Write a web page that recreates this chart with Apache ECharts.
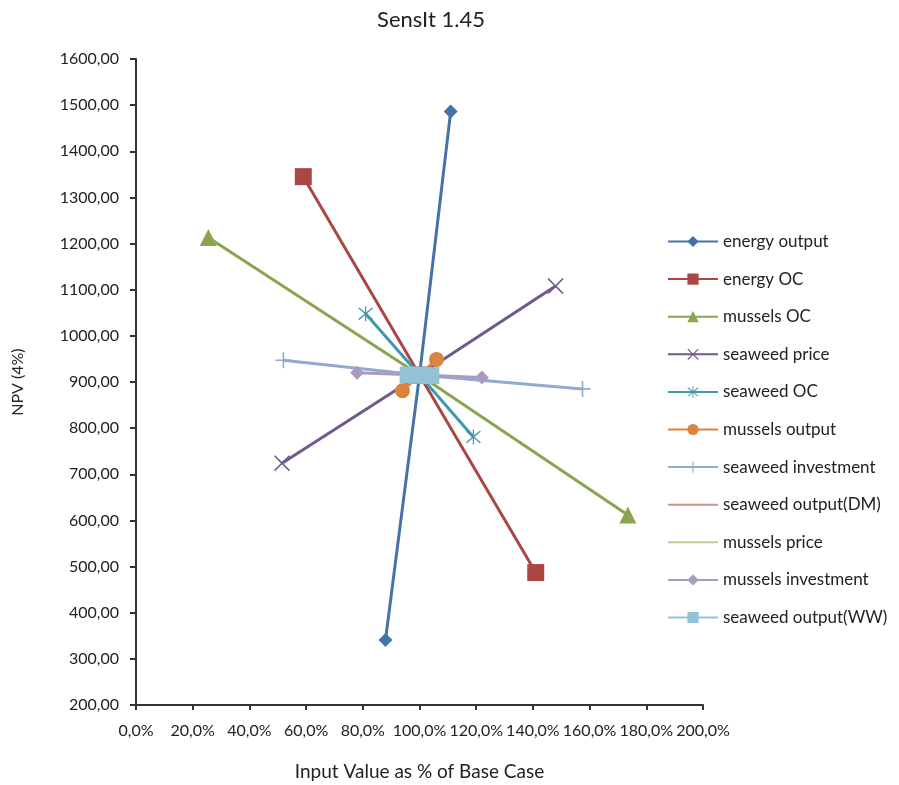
<!DOCTYPE html>
<html>
<head>
<meta charset="utf-8">
<script src="https://cdn.jsdelivr.net/npm/echarts@6/dist/echarts.min.js"></script>
<style>
  html, body { margin: 0; padding: 0; background: #fff; }
  #chart { width: 899px; height: 785px; }
</style>
</head>
<body>
<div id="chart"></div>
<script>
// Sensitivity of NPV (4%) to each input, input given as % of base case
const seriesNames = [
  'energy output', 'energy OC', 'mussels OC', 'seaweed price', 'seaweed OC',
  'mussels output', 'seaweed investment', 'seaweed output(DM)', 'mussels price',
  'mussels investment', 'seaweed output(WW)'
];
const energyOutputX = [88, 100, 111];
const energyOutputY = [341, 915, 1486];
const energyOcX = [59, 100, 141];
const energyOcY = [1345, 915, 487];
const musselsOcX = [25.5, 100, 173.5];
const musselsOcY = [1213, 915, 612];
const seaweedPriceX = [51.5, 100, 148];
const seaweedPriceY = [724, 915, 1108];
const seaweedOcX = [81, 100, 119];
const seaweedOcY = [1048, 915, 781];
const musselsOutputX = [94, 100, 106];
const musselsOutputY = [881, 915, 949];
const seaweedInvestX = [52, 100, 157.5];
const seaweedInvestY = [947, 915, 885];
const seaweedOutDmX = [97, 100, 103];
const seaweedOutDmY = [914, 915, 916];
const musselsPriceX = [97, 100, 103];
const musselsPriceY = [913, 915, 917];
const musselsInvestX = [78, 100, 122];
const musselsInvestY = [920, 915, 910];
const seaweedOutWwX = [96, 100, 104];
const seaweedOutWwY = [915, 915, 914];

const seriesX = [energyOutputX, energyOcX, musselsOcX, seaweedPriceX, seaweedOcX,
  musselsOutputX, seaweedInvestX, seaweedOutDmX, musselsPriceX, musselsInvestX, seaweedOutWwX];
const seriesY = [energyOutputY, energyOcY, musselsOcY, seaweedPriceY, seaweedOcY,
  musselsOutputY, seaweedInvestY, seaweedOutDmY, musselsPriceY, musselsInvestY, seaweedOutWwY];

const colors = ['#4572A7', '#AA4643', '#89A54E', '#71588F', '#4198AF',
  '#DB843D', '#93A9CF', '#D19392', '#B9CD96', '#A99BBD', '#91C3D5'];

// marker glyphs drawn as filled outlines
const plusPath = 'path://M9,0 L11,0 L11,9 L20,9 L20,11 L11,11 L11,20 L9,20 L9,11 L0,11 L0,9 L9,9 Z';
const crossPath = 'path://M1.4,0 L10,8.6 L18.6,0 L20,1.4 L11.4,10 L20,18.6 L18.6,20 L10,11.4 L1.4,20 L0,18.6 L8.6,10 L0,1.4 Z';
const starPath = 'path://M1.4,0 L10,8.6 L18.6,0 L20,1.4 L11.4,10 L20,18.6 L18.6,20 L10,11.4 L1.4,20 L0,18.6 L8.6,10 L0,1.4 Z M9.2,-2 L10.8,-2 L10.8,22 L9.2,22 Z';

const symbols = ['diamond', 'rect', 'triangle', crossPath, starPath,
  'circle', plusPath, 'circle', 'circle', 'diamond', 'rect'];
const symbolSizes = [14, 17, 17, 16, 15, 15, 16, 0, 0, 14, 17];
// these two series carry no visible marker
const markerColors = colors.map((c, i) => (i === 7 || i === 8) ? 'rgba(0,0,0,0)' : c);

const font = 'Lato, "Open Sans", sans-serif';

const series = seriesNames.map((name, i) => ({
  name: name,
  type: 'line',
  data: seriesX[i].map((x, j) => [x, seriesY[i][j]]),
  symbol: symbols[i],
  symbolSize: symbolSizes[i],
  showSymbol: symbolSizes[i] > 0,
  lineStyle: { color: colors[i], width: 3 },
  itemStyle: { color: markerColors[i] },
  emphasis: { disabled: true },
  animation: false
}));

const chart = echarts.init(document.getElementById('chart'));
chart.setOption({
  backgroundColor: '#fff',
  title: {
    text: 'SensIt 1.45',
    left: 426,
    textAlign: 'center',
    top: 4,
    textStyle: { fontFamily: font, fontSize: 22, fontWeight: 'normal', color: '#222' }
  },
  grid: { left: 136, right: 196, top: 59, bottom: 80, containLabel: false, outerBoundsMode: 'none' },
  legend: {
    orient: 'vertical',
    left: 662,
    top: 228,
    itemWidth: 50,
    itemHeight: 14,
    itemGap: 20.6,
    data: seriesNames,
    textStyle: { fontFamily: font, fontSize: 17, color: '#222', lineHeight: 17 }
  },
  xAxis: {
    type: 'value',
    min: 0,
    max: 200,
    interval: 20,
    name: 'Input Value as % of Base Case',
    nameLocation: 'middle',
    nameGap: 57,
    nameTextStyle: { fontFamily: font, fontSize: 19, color: '#222' },
    axisLine: { lineStyle: { color: '#333', width: 2 } },
    axisTick: { show: true, length: 5, lineStyle: { color: '#333', width: 2 } },
    axisLabel: {
      fontFamily: font, fontSize: 16, color: '#222', margin: 18,
      formatter: v => v.toFixed(1).replace('.', ',') + '%'
    },
    splitLine: { show: false }
  },
  yAxis: {
    type: 'value',
    min: 200,
    max: 1600,
    interval: 100,
    name: 'NPV (4%)',
    nameLocation: 'middle',
    nameGap: 110,
    nameRotate: 90,
    nameTextStyle: { fontFamily: font, fontSize: 16, color: '#222' },
    axisLine: { show: true, lineStyle: { color: '#333', width: 2 } },
    axisTick: { show: true, length: 6, lineStyle: { color: '#333', width: 2 } },
    axisLabel: {
      fontFamily: font, fontSize: 16, color: '#222', margin: 17,
      formatter: v => v.toFixed(2).replace('.', ',')
    },
    splitLine: { show: false }
  },
  series: series
});
</script>
</body>
</html>
